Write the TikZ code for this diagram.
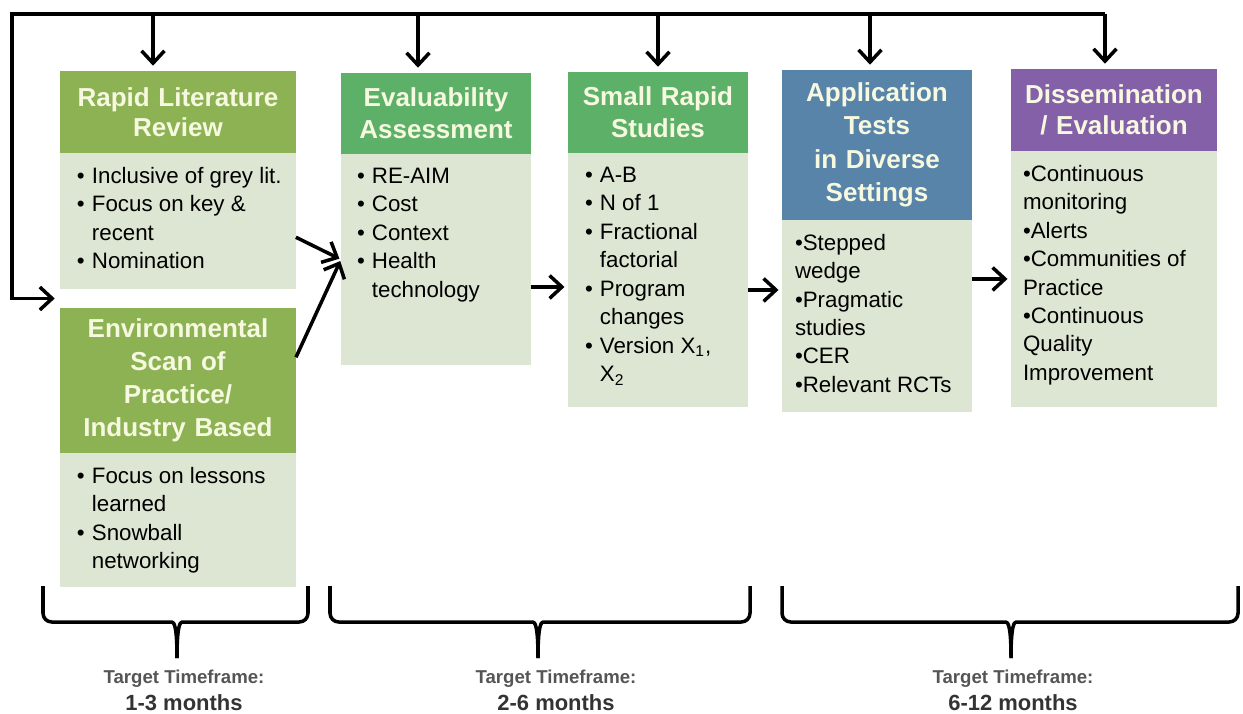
\documentclass[tikz,border=0pt]{standalone}
\usepackage{fontspec}
\setmainfont{Liberation Sans}
\usepackage{tikz}
\usetikzlibrary{positioning,calc,arrows.meta}
\definecolor{hdrolive}{RGB}{140,178,84}
\definecolor{hdrgreen}{RGB}{92,176,104}
\definecolor{hdrblue}{RGB}{88,132,170}
\definecolor{hdrpurple}{RGB}{132,96,168}
\definecolor{bodygreen}{RGB}{221,230,211}
\definecolor{hdrtext}{RGB}{246,249,224}
\definecolor{tfgray}{RGB}{85,85,85}
\definecolor{tfdark}{RGB}{51,51,51}
\newcommand{\bl}[1]{\par\hangindent=8.5pt\hangafter=1\noindent\makebox[8.5pt][l]{\textbullet}#1}
\newcommand{\boxtext}[4]{\begin{minipage}[t][#2][t]{#1}\raggedright\leftskip=#3\fontsize{12.7}{16.2}\selectfont #4\end{minipage}}

\begin{document}
\begin{tikzpicture}[x=0.02cm,y=-0.02cm,
hdr/.style={anchor=north west,inner sep=0pt,outer sep=0pt,align=center,text=hdrtext,
  font=\bfseries\fontsize{14.8}{18}\selectfont},
body/.style={fill=bodygreen,inner xsep=0pt,inner ysep=0.28cm,outer sep=0pt},
flow/.style={line width=2pt,-{Straight Barb[length=7pt,width=13pt]}},
brace/.style={line width=2pt,rounded corners=5pt},
tflabel/.style={align=center,text=tfdark,font=\bfseries\fontsize{12.5}{15.3}\selectfont}]

\useasboundingbox (0,0) rectangle (1243,713);

% headers
\node[hdr,fill=hdrolive,minimum width=4.72cm,text width=4.72cm,minimum height=1.64cm,
  font=\bfseries\fontsize{14.8}{17}\selectfont] (rlr) at (60,71) {Rapid Literature\\Review};
\node[hdr,fill=hdrolive,minimum width=4.72cm,text width=4.72cm,minimum height=2.9cm,
  font=\bfseries\fontsize{14.8}{18.7}\selectfont] (esc) at (60,308) {Environmental\\Scan of\\Practice/\\Industry Based};
\node[hdr,fill=hdrgreen,minimum width=3.8cm,text width=3.8cm,minimum height=1.62cm] (ea) at (341,73) {Evaluability\\Assessment};
\node[hdr,fill=hdrgreen,minimum width=3.6cm,text width=3.6cm,minimum height=1.62cm] (srs) at (568,72) {Small Rapid\\Studies};
\node[hdr,fill=hdrblue,minimum width=3.8cm,text width=3.8cm,minimum height=3cm,
  font=\bfseries\fontsize{14.8}{19}\selectfont] (at) at (782,70) {Application\\Tests\\in Diverse\\Settings};
\node[hdr,fill=hdrpurple,minimum width=4.12cm,text width=4.12cm,minimum height=1.64cm] (dis) at (1011,69) {Dissemination\\/ Evaluation};

% bodies
\node[body,below=0pt of rlr] (rlrb) {\boxtext{4.72cm}{2.16cm}{0.34cm}{%
  \bl{Inclusive of grey lit.}\bl{Focus on key \&\newline recent}\bl{Nomination}}};
\node[body,below=0pt of esc] (escb) {\boxtext{4.72cm}{2.12cm}{0.34cm}{%
  \bl{Focus on lessons\newline learned}\bl{Snowball\newline networking}}};
\node[body,below=0pt of ea] (eab) {\boxtext{3.8cm}{3.66cm}{0.32cm}{%
  \bl{RE-AIM}\bl{Cost}\bl{Context}\bl{Health\newline technology}}};
\node[body,below=0pt of srs] (srsb) {\boxtext{3.6cm}{4.52cm}{0.34cm}{%
  \bl{A-B}\bl{N of 1}\bl{Fractional\newline factorial}\bl{Program\newline changes}\bl{Version X\textsubscript{1},\newline X\textsubscript{2}}}};
\node[body,below=0pt of at] (atb) {\boxtext{3.8cm}{3.28cm}{0.26cm}{%
  \textbullet Stepped\\wedge\par\textbullet Pragmatic\\studies\par\textbullet CER\par\textbullet Relevant RCTs}};
\node[body,below=0pt of dis] (disb) {\boxtext{4.12cm}{4.56cm}{0.24cm}{%
  \textbullet Continuous\\monitoring\par\textbullet Alerts\par\textbullet Communities of\\Practice\par
  \textbullet Continuous\\Quality\\Improvement}};

% feedback loop
\coordinate (fbl) at (12,14);
\coordinate (fbr) at (1105,14);
\coordinate (gap) at ($(rlrb.south west)!0.5!(esc.north west)$);
\draw[flow,shorten >=3pt] (fbr) -- (fbl) |- (gap);
\draw[flow,shorten >=3pt] (fbr) -- (fbr |- dis.north);
\foreach \n/\x in {rlr/153,ea/418,srs/658,at/870}{
  \coordinate (fb\n) at (\x,14);
  \draw[flow,shorten >=3pt] (fb\n) -- (fb\n |- \n.north);
}

% flow between stages
\draw[flow,shorten >=1pt] ($(rlrb.north east)!0.62!(rlrb.south east)$) -- (eab.west);
\draw[flow,shorten >=1pt] ($(esc.north east)!0.34!(esc.south east)$) -- (eab.west);
\draw[flow,shorten >=2pt] ([yshift=-0.55cm]eab.east) -- ([yshift=-0.55cm]eab.east -| srsb.west);
\draw[flow,shorten >=2pt] ([yshift=-0.2cm]srsb.east) -- ([yshift=-0.2cm]srsb.east -| atb.west);
\draw[flow,shorten >=2pt] (atb.east |- disb.west) -- (disb.west);

% timeframes
\foreach \l/\m/\r/\c/\tf/\i in {43/177/308/184/1-3/1,330/538/750/556/2-6/2,782/1011/1238/1013/6-12/3}{
  \draw[brace] (\l,586) -- (\l,622) -- (\m-14,622) .. controls (\m-3,622) and (\m,626) .. (\m,658);
  \draw[brace] (\r,586) -- (\r,622) -- (\m+14,622) .. controls (\m+3,622) and (\m,626) .. (\m,658);
  \node[tflabel] (tf\i) at (\c,690) {{\color{tfgray}\fontsize{10.6}{15.3}\selectfont Target Timeframe:}\\\tf\ months};
}

\end{tikzpicture}
\end{document}
